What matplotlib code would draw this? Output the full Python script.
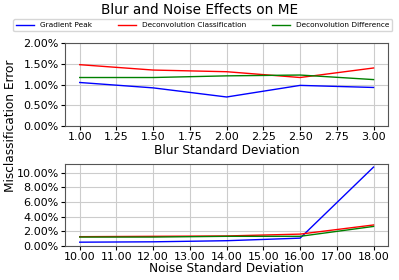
import numpy as np
import matplotlib.pyplot as plt
from matplotlib.ticker import PercentFormatter

blur_sd = [1.0, 1.5, 2.0, 2.5, 3.0]
blur_gradient = [1.05, 0.92, 0.70, 0.98, 0.93]
blur_deconv_class = [1.48, 1.35, 1.31, 1.17, 1.40]
blur_deconv_diff = [1.17, 1.17, 1.21, 1.23, 1.12]

noise_sd = [10.0, 12.0, 14.0, 16.0, 18.0]
noise_gradient = [0.50, 0.55, 0.70, 1.05, 10.75]
noise_deconv_class = [1.25, 1.30, 1.35, 1.60, 2.85]
noise_deconv_diff = [1.20, 1.20, 1.30, 1.30, 2.65]

labels = ["Gradient Peak", "Deconvolution Classification", "Deconvolution Difference"]
colors = ["blue", "red", "green"]

fig = plt.figure(figsize=(3.99, 2.8), dpi=100)
ax1 = fig.add_axes([0.163, 0.55, 0.81, 0.296])
ax2 = fig.add_axes([0.163, 0.122, 0.81, 0.293])

for ys, c, lab in zip([blur_gradient, blur_deconv_class, blur_deconv_diff], colors, labels):
    ax1.plot(blur_sd, ys, color=c, lw=1, label=lab)
for ys, c in zip([noise_gradient, noise_deconv_class, noise_deconv_diff], colors):
    ax2.plot(noise_sd, ys, color=c, lw=1)

ax1.set_ylim(0, 2.0)
ax1.set_yticks(np.arange(0, 2.01, 0.5))
ax1.set_xticks(np.arange(1.0, 3.01, 0.25))
ax1.xaxis.set_major_formatter(lambda v, p: f"{v:.2f}")
ax2.set_ylim(0, 11.2)
ax2.set_yticks(np.arange(0, 10.1, 2))
ax2.set_xticks(np.arange(10, 18.1, 1))
ax2.xaxis.set_major_formatter(lambda v, p: f"{v:.2f}")

for ax in (ax1, ax2):
    ax.yaxis.set_major_formatter(PercentFormatter(decimals=2))
    ax.grid(True, color="#cccccc", lw=0.8)
    ax.tick_params(labelsize=8, length=3, pad=1.5)
    for s in ax.spines.values():
        s.set_color("#555555")
        s.set_linewidth(0.8)

ax1.set_xlabel("Blur Standard Deviation", fontsize=8.7, labelpad=1)
ax2.set_xlabel("Noise Standard Deviation", fontsize=8.7, labelpad=0)
fig.text(0.027, 0.55, "Misclassification Error", rotation=90, va="center", ha="center", fontsize=8.7)
fig.suptitle("Blur and Noise Effects on ME", fontsize=9.8, y=0.99)
fig.legend(loc="center", bbox_to_anchor=(0.508, 0.91), ncol=3, fontsize=5.3,
           handlelength=2.4, columnspacing=3.6, borderpad=0.4, frameon=True)

plt.savefig("out.png", dpi=100, facecolor="white")
plt.close()
